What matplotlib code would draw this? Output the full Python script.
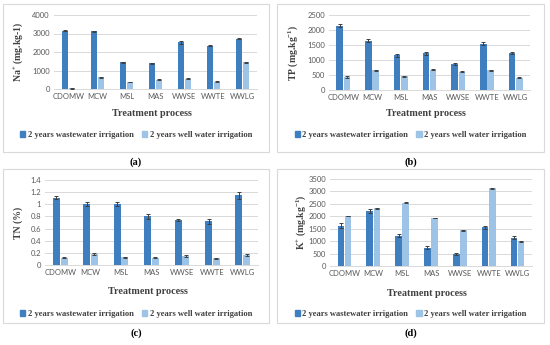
import numpy as np
import matplotlib.pyplot as plt
from matplotlib.patches import Rectangle

plt.rcParams['mathtext.fontset'] = 'custom'
plt.rcParams['mathtext.rm'] = 'Liberation Serif:bold'
plt.rcParams['mathtext.default'] = 'rm'

categories = ['CDOMW', 'MCW', 'MSL', 'MAS', 'WWSE', 'WWTE', 'WWLG']
series_names = ['2 years wastewater irrigation', '2 years well water irrigation']

na_ww = [3150, 3130, 1450, 1400, 2530, 2350, 2720]
na_well = [30, 640, 370, 500, 560, 390, 1450]
na_ww_err = [30, 30, 30, 30, 90, 30, 30]
na_well_err = [10, 20, 15, 30, 30, 30, 20]

tp_ww = [2140, 1640, 1160, 1220, 870, 1550, 1230]
tp_well = [430, 660, 460, 680, 610, 660, 410]
tp_ww_err = [50, 50, 50, 50, 30, 50, 40]
tp_well_err = [25, 20, 15, 15, 20, 20, 15]

tn_ww = [1.11, 1.01, 1.00, 0.80, 0.74, 0.72, 1.15]
tn_well = [0.12, 0.18, 0.13, 0.12, 0.15, 0.11, 0.16]
tn_ww_err = [0.03, 0.03, 0.03, 0.04, 0.02, 0.04, 0.06]
tn_well_err = [0.01, 0.01, 0.01, 0.01, 0.02, 0.01, 0.015]

k_ww = [1610, 2220, 1220, 740, 490, 1550, 1130]
k_well = [2010, 2320, 2550, 1930, 1430, 3130, 990]
k_ww_err = [100, 90, 60, 60, 40, 60, 60]
k_well_err = [15, 15, 15, 15, 15, 20, 15]

panels = [
    # label, ylabel, ww, well, errs, ymax, step, box(px), axes(px), ylabel x
    ('(a)', 'Na$^{+}$ (mg.kg-1)', na_ww, na_well, na_ww_err, na_well_err, 4000, 1000,
     (3, 4, 269, 152), (54, 15, 257, 89), 18),
    ('(b)', 'TP (mg.kg$^{-1}$)', tp_ww, tp_well, tp_ww_err, tp_well_err, 2500, 500,
     (277, 4, 544, 152), (329, 15, 530, 90), 293),
    ('(c)', 'TN (%)', tn_ww, tn_well, tn_ww_err, tn_well_err, 1.4, 0.2,
     (3, 169, 269, 323), (45, 180, 258, 265), 18),
    ('(d)', 'K$^{+}$ (mg.kg$^{-1}$)', k_ww, k_well, k_ww_err, k_well_err, 3500, 500,
     (277, 169, 544, 323), (330, 179, 532, 266), 301),
]

W, H = 550, 345
dark = '#3F7EBF'
light = '#9DC3E6'
serif = 'Liberation Serif'

fig = plt.figure(figsize=(W / 100, H / 100), dpi=100)
fig.patch.set_facecolor('white')

def fx(x):
    return x / W

def fy(y):
    return 1 - y / H

x = np.arange(len(categories))
w = 0.23

for (lab, ylab, ww, well, ww_err, well_err, ymax, step, box, ax_px, ylab_x) in panels:
    bx0, by0, bx1, by1 = box
    fig.patches.append(Rectangle((fx(bx0), fy(by1)), fx(bx1 - bx0), (by1 - by0) / H,
                                 transform=fig.transFigure, fill=False,
                                 edgecolor='#D9D9D9', linewidth=0.8))
    x0, y0, x1, y1 = ax_px
    ax = fig.add_axes([fx(x0), fy(y1), fx(x1 - x0), (y1 - y0) / H])
    ax.bar(x - 0.125, ww, w, color=dark, yerr=ww_err, capsize=1.5,
           error_kw=dict(ecolor='#404040', elinewidth=0.7, capthick=0.7),
           label=series_names[0], zorder=3)
    ax.bar(x + 0.125, well, w, color=light, yerr=well_err, capsize=1.5,
           error_kw=dict(ecolor='#404040', elinewidth=0.7, capthick=0.7),
           label=series_names[1], zorder=3)
    ax.set_xlim(-0.5, len(categories) - 0.5)
    ax.set_ylim(0, ymax)
    ticks = np.arange(0, ymax + step / 2, step)
    ax.set_yticks(ticks)
    if step < 1:
        ax.set_yticklabels(['0' if t == 0 else ('1' if abs(t - 1) < 1e-9 else f'{t:.1f}') for t in ticks])
    ax.set_xticks(x)
    ax.set_xticklabels(categories)
    ax.tick_params(length=0, labelsize=5.5, labelcolor='#595959', pad=3)
    for t in ax.get_xticklabels() + ax.get_yticklabels():
        t.set_fontfamily('Lato')
    ax.grid(axis='y', color='#D9D9D9', linewidth=0.7, zorder=0)
    for s in ['top', 'right', 'left']:
        ax.spines[s].set_visible(False)
    ax.spines['bottom'].set_color('#D9D9D9')
    ax.spines['bottom'].set_linewidth(0.7)

    fig.text(fx(ylab_x), fy((y0 + y1) / 2), ylab, rotation=90, ha='center', va='center',
             fontsize=7, fontweight='bold', family=serif, color='#404040')
    ty = y1 + 24 if lab in ('(a)', '(b)') else y1 + 27
    fig.text(fx((x0 + x1) / 2 - 4), fy(ty), 'Treatment process', ha='center', va='center',
             fontsize=7.3, fontweight='bold', family=serif, color='#404040')
    leg_y = by1 - 17 if lab in ('(a)', '(b)') else by1 - 9
    h, l = ax.get_legend_handles_labels()
    fig.legend([Rectangle((0, 0), 1, 1, color=dark), Rectangle((0, 0), 1, 1, color=light)], l,
               loc='center', bbox_to_anchor=(fx((bx0 + bx1) / 2), fy(leg_y)), ncol=2,
               frameon=False, handlelength=0.6, handleheight=0.6, handletextpad=0.3,
               columnspacing=1.0, prop=dict(family=serif, weight='bold', size=6.1),
               labelcolor='#404040')
    fig.text(fx((bx0 + bx1) / 2), fy(by1 + 10), lab, ha='center', va='center',
             fontsize=7.5, fontweight='bold', family=serif, color='black')

fig.savefig('out.png', dpi=100)
